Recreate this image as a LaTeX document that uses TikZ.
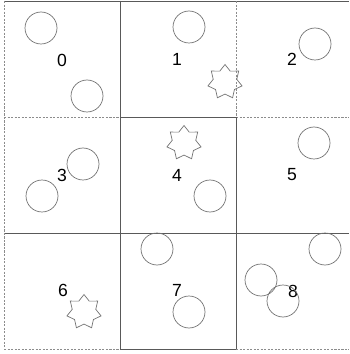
\documentclass[tikz,border=0pt]{standalone}
\usepackage{fontspec}
\setmainfont{Liberation Sans}
\usetikzlibrary{shapes.geometric}
\tikzset{
  wall/.style={draw=black!65, line width=0.45pt},
  openwall/.style={draw=black!45, line width=0.45pt, dash pattern=on 1.2pt off 0.8pt},
  ball/.style={circle, draw=black!55, line width=0.4pt, minimum size=0.64cm, inner sep=0pt},
  spiky/.style={star, star points=7, star point ratio=1.45, draw=black!55, line width=0.4pt, minimum size=0.7cm, inner sep=0pt},
  cellnum/.style={font=\fontsize{10}{11}\selectfont, inner sep=0pt}
}
\begin{document}
\begin{tikzpicture}[x=0.02cm, y=-0.02cm]
  \useasboundingbox (0,0) rectangle (349,354);
  % grid corners
  \foreach \i/\x in {0/4,1/120,2/236,3/349}
    \foreach \j/\y in {0/1,1/117,2/233,3/349}
      \coordinate (g\i\j) at (\x,\y);

  % horizontal walls
  \draw[wall] (g00) -- (g30);
  \draw[openwall] (g01) -- (g11);
  \draw[wall] (g11) -- (g21);
  \draw[openwall] (g21) -- (g31);
  \draw[wall] (g02) -- (g32);
  \draw[openwall] (g03) -- (g13);
  \draw[wall] (g13) -- (g23);
  \draw[openwall] (g23) -- (g33);

  % vertical walls
  \draw[openwall] (g00) -- (g03);
  \draw[wall] (g10) -- (g13);
  \draw[openwall] (g20) -- (g21);
  \draw[wall] (g21) -- (g23);

  % cell 0
  \node[cellnum] (n0) at (62,60) {0};
  \node[ball] (c0a) at (41,28) {};
  \node[ball] (c0b) at (87,96) {};

  % cell 1
  \node[cellnum] (n1) at (177,59) {1};
  \node[ball] (c1a) at (189,27) {};
  \node[spiky] (s1) at (225,82) {};

  % cell 2
  \node[cellnum] (n2) at (292,59) {2};
  \node[ball] (c2a) at (315,44) {};

  % cell 3
  \node[cellnum] (n3) at (62,175) {3};
  \node[ball] (c3a) at (83,164) {};
  \node[ball] (c3b) at (42,196) {};

  % cell 4
  \node[cellnum] (n4) at (177,175) {4};
  \node[spiky] (s4) at (184,143) {};
  \node[ball] (c4a) at (210,196) {};

  % cell 5
  \node[cellnum] (n5) at (292,175) {5};
  \node[ball] (c5a) at (314,143) {};

  % cell 6
  \node[cellnum] (n6) at (63,290) {6};
  \node[spiky] (s6) at (84,312) {};

  % cell 7
  \node[cellnum] (n7) at (177,290) {7};
  \node[ball] (c7a) at (157,249) {};
  \node[ball] (c7b) at (189,312) {};

  % cell 8
  \node[cellnum] (n8) at (293,291) {8};
  \node[ball] (c8a) at (325,249) {};
  \node[ball] (c8b) at (261,280) {};
  \node[ball] (c8c) at (283,301) {};
\end{tikzpicture}
\end{document}
